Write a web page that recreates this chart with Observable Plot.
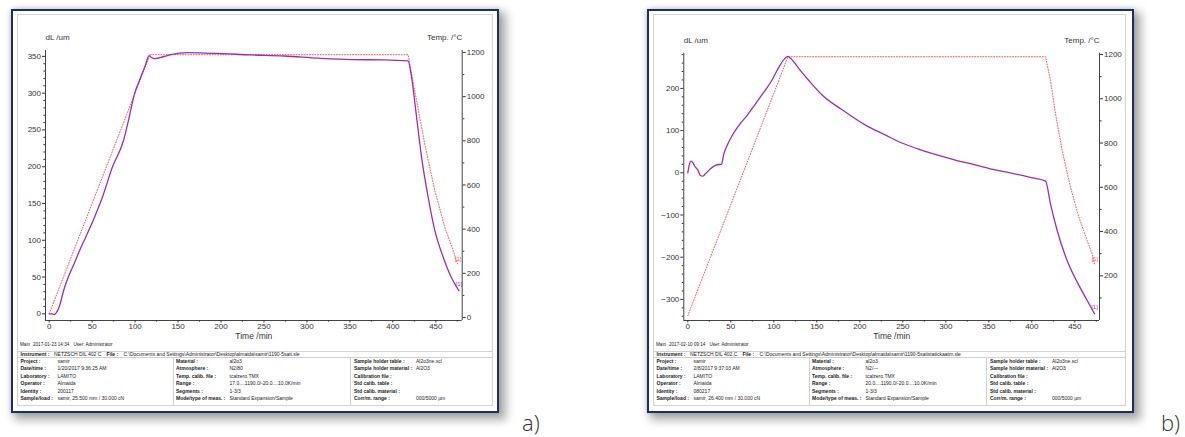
<!DOCTYPE html>
<html><head><meta charset="utf-8">
<script src="https://cdn.jsdelivr.net/npm/d3@7"></script>
<script src="https://cdn.jsdelivr.net/npm/@observablehq/plot@0.6"></script>
<style>
html,body{margin:0;padding:0;background:#fff;width:1185px;height:437px;overflow:hidden;}
body{position:relative;font-family:"Liberation Sans",Arial,sans-serif;}
.frame{position:absolute;border:2px solid #1e2d66;box-sizing:border-box;background:#fff;box-shadow:5px 5px 9px 2px rgba(0,0,0,0.33),0 0 5px rgba(0,0,0,0.18);}
.inner{position:absolute;border:1px solid #d4d4d4;box-sizing:border-box;}
.plotbox{position:absolute;}
.plotbox svg{overflow:visible;}
.t{position:absolute;white-space:nowrap;font-size:5px;line-height:6px;color:#222;}
.b{font-weight:bold;}
.line{position:absolute;background:#cfcfcf;}
.tag{position:absolute;font-family:"Open Sans","Noto Sans",sans-serif;font-weight:300;font-size:22px;line-height:22px;color:#333;}
</style></head>
<body>
<div class="frame" style="left:11px;top:9px;width:488px;height:404px"></div>
<div class="inner" style="left:17px;top:14px;width:476px;height:392px"></div>
<div class="frame" style="left:647px;top:9px;width:487px;height:404px"></div>
<div class="inner" style="left:653px;top:14px;width:473px;height:392px"></div>
<div id="pa" class="plotbox" style="left:17px;top:14px"></div>
<div id="pb" class="plotbox" style="left:654px;top:14px"></div>
<div class="tag" style="left:522px;top:411px">a)</div>
<div class="tag" style="left:1161px;top:411px">b)</div>
<script>
// ---------- Panel a data ----------
const timeA = [0, 3, 6, 8, 11.5, 17.4, 23, 29, 35, 40.7, 50.4, 62, 73.6, 86.5, 92.3, 98.8, 106.6, 112, 116.3, 119, 123.5, 132.7, 141.5, 161, 196, 235, 274, 313, 352, 390, 417.7, 421.6, 427.5, 433.3, 441, 448.8, 458.6, 468, 476.8];
const dLA   = [0, 0, -1, 1, 9, 34, 52, 68, 85, 99.7, 124.7, 158.7, 199.5, 235.7, 263, 297, 322, 338, 351, 348.5, 347, 349.5, 352.5, 355, 354, 352, 350.5, 347.5, 345.6, 345.3, 343.8, 323, 268.5, 213.8, 159, 113.5, 77, 49.7, 31.5];
const tempTimeA = [0, 117.3, 417.7, 425.4, 437.1, 448.8, 460.4, 470.2, 475.3];
const tempA     = [17, 1190, 1190, 1027, 786, 575, 409, 303, 243];
// ---------- Panel b data ----------
const timeB = [0, 1.5, 3.9, 6.2, 8.9, 11.6, 14.7, 17.4, 20.5, 26.4, 32.2, 36, 39, 41.9, 45.7, 51.6, 59.3, 69, 78.7, 88.4, 98, 105.8, 112.4, 116.3, 120, 131, 141, 157.1, 178.2, 186.6, 207.6, 228.7, 249.7, 270.8, 291.8, 312.9, 333.9, 355, 376, 397, 416, 421.7, 429.5, 441, 452.8, 464.4, 472.9];
const dLB   = [0, 17, 27.6, 23, 13.4, 7, -6.3, -8, -2.4, 9.5, 17.4, 19.7, 19.7, 45, 64.8, 88.5, 112, 136, 163.5, 191, 220, 250, 270, 275.7, 270, 242, 218, 182.7, 151, 139.4, 111.8, 90.6, 70, 54.3, 41, 29, 18.9, 7.9, -0.8, -10.2, -19.7, -73.5, -136.7, -207.8, -259, -302.6, -334];
const tempTimeB = [0, 116.5, 416, 421.7, 427.6, 435.3, 445, 454.7, 464.4, 470.2, 472.9];
const tempB     = [20, 1190, 1190, 1082, 931, 766, 600, 465, 359, 299, 254];
// ---------- Ticks ----------
const timeTicks = [0, 50, 100, 150, 200, 250, 300, 350, 400, 450];
const timeMinor = [25, 75, 125, 175, 225, 275, 325, 375, 425, 475];
const dLTicksA = [0, 50, 100, 150, 200, 250, 300, 350];
const dLTicksB = [-300, -200, -100, 0, 100, 200];
const tempTicksA = [0, 200, 400, 600, 800, 1000, 1200];
const tempTicksB = [200, 400, 600, 800, 1000, 1200];
const tempMinor = [100, 300, 500, 700, 900, 1100];
// ---------- Texts ----------
const xLabel = "Time /min", yLabel = "dL /um", y2Label = "Temp. /°C";
const col1Labels = ["Project :", "Date/time :", "Laboratory :", "Operator :", "Identity :", "Sample/load :"];
const col2Labels = ["Material :", "Atmosphere :", "Temp. calib. file :", "Range :", "Segments :", "Mode/type of meas. :"];
const col3Labels = ["Sample holder table :", "Sample holder material :", "Calibration file :", "Std calib. table :", "Std calib. material :", "Corr/m. range :"];
const col1A = ["samir", "1/20/2017 9:36:25 AM", "LAMITO", "Almaida", "200117", "samir, 25.500 mm / 30.000 cN"];
const col2A = ["al2o3", "N2/80", "tcalzero.TMX", "17.0....1190.0/-20.0....10.0K/min", "1-3/3", "Standard Expansion/Sample"];
const col3A = ["Al2o3ne.scl", "Al2O3", "", "", "", "000/5000 µm"];
const col1B = ["samir", "2/8/2017 9:37:03 AM", "LAMITO", "Almaida", "080217", "samir, 26.400 mm / 30.000 cN"];
const col2B = ["al2o3", "N2/---", "tcalzero.TMX", "20.0....1190.0/-20.0....10.0K/min", "1-3/3", "Standard Expansion/Sample"];
const col3B = ["Al2o3ne.scl", "Al2O3", "", "", "", "000/5000 µm"];
const mainA = ["Main", "2017-01-23 14:34", "User: Administrator"];
const mainB = ["Main", "2017-02-10 09:14", "User: Administrator"];
const instrument = "NETZSCH DIL 402 C";
const fileA = "C:\\Documents and Settings\\Administrator\\Desktop\\almaida\\samir\\1190-5sati.sle";
const fileB = "C:\\Documents and Settings\\Administrator\\Desktop\\almaida\\samir\\1190-5satistatickaatm.sle";

const PURPLE = "#9a2fae", RED = "#ff5555", AX = "#444";

function panel(cfg) {
  const [d0, d1] = cfg.dLDomain, [T0, T1] = cfg.tempDomain;
  const toY = T => d0 + (T - T0) * (d1 - d0) / (T1 - T0);
  const fromY = v => T0 + (v - d0) * (T1 - T0) / (d1 - d0);
  const dl = cfg.time.map((t, i) => ({t, v: cfg.dL[i]}));
  const tp = cfg.tempTime.map((t, i) => ({t, v: toY(cfg.temp[i])}));
  const dlEnd = dl[dl.length - 1], tpEnd = tp[tp.length - 1];
  return Plot.plot({
    width: cfg.width, height: 332,
    marginLeft: cfg.ml, marginRight: cfg.mr, marginTop: cfg.mt, marginBottom: 26,
    x: {domain: cfg.xDomain},
    y: {domain: cfg.dLDomain},
    style: {fontFamily: "'Liberation Sans', Arial, sans-serif", fontSize: "8px", color: "#333", background: "transparent", overflow: "visible"},
    marks: [
      Plot.ruleX([cfg.xDomain[0], cfg.xDomain[1]], {stroke: AX, strokeWidth: 1}),
      Plot.ruleY([cfg.dLDomain[0]], {stroke: AX, strokeWidth: 1}),
      Plot.axisY(cfg.dLTicks, {anchor: "left", tickSize: 3, tickPadding: 1.5, label: null, fontSize: 8}),
      Plot.axisY(cfg.dLMinor, {anchor: "left", tickSize: 1.6, tickFormat: () => "", label: null}),
      Plot.axisY(cfg.tempTicks.map(toY), {anchor: "right", tickSize: 3, tickPadding: 1.5, tickFormat: v => String(Math.round(fromY(v))), label: null, fontSize: 8}),
      Plot.axisY(tempMinor.map(toY), {anchor: "right", tickSize: 1.6, tickFormat: () => "", label: null}),
      Plot.axisX(timeTicks, {anchor: "bottom", tickSize: 2.5, tickPadding: 0.5, label: null, fontSize: 8}),
      Plot.axisX(timeMinor.filter(t => t < cfg.xDomain[1]), {anchor: "bottom", tickSize: 1.6, tickFormat: () => "", label: null}),
      Plot.line(tp, {x: "t", y: "v", stroke: RED, strokeWidth: 1, strokeDasharray: "1,1.7"}),
      Plot.line(dl, {x: "t", y: "v", stroke: PURPLE, strokeWidth: 1.3, curve: "monotone-x"}),
      Plot.text([tpEnd], {x: "t", y: "v", text: () => "[1]", fill: RED, fontSize: 6, dy: -4.5, dx: 0.5}),
      Plot.text([dlEnd], {x: "t", y: "v", text: () => "[1]", fill: PURPLE, fontSize: 6, dy: -6.5, dx: 0}),
      Plot.text([yLabel], {frameAnchor: "top-left", text: d => d, dy: -16, fontSize: 8}),
      Plot.text([y2Label], {frameAnchor: "top-right", text: d => d, dy: -16, fontSize: 8}),
      Plot.text([xLabel], {frameAnchor: "bottom", text: d => d, dy: 18, fontSize: 8.5})
    ]
  });
}

document.getElementById("pa").appendChild(panel({
  width: 476, ml: 28, mr: 31.3, mt: 36,
  xDomain: [-4.3, 480.7], dLDomain: [-9.1, 358], tempDomain: [-13.6, 1209],
  time: timeA, dL: dLA, tempTime: tempTimeA, temp: tempA,
  dLTicks: dLTicksA, dLMinor: d3.range(10, 351, 10).filter(v => v % 50 !== 0),
  tempTicks: tempTicksA
}));
document.getElementById("pb").appendChild(panel({
  width: 472, ml: 29.3, mr: 27, mt: 38.7,
  xDomain: [-4.65, 478.7], dLDomain: [-350, 283.4], tempDomain: [-1.8, 1205.9],
  time: timeB, dL: dLB, tempTime: tempTimeB, temp: tempB,
  dLTicks: dLTicksB, dLMinor: d3.range(-340, 281, 20).filter(v => v % 100 !== 0),
  tempTicks: tempTicksB
}));

function txt(x, yc, s, bold, size) {
  const d = document.createElement("div");
  d.className = "t" + (bold ? " b" : "");
  d.style.left = x + "px";
  d.style.top = (yc - 3) + "px";
  if (size) d.style.fontSize = size + "px";
  d.textContent = s;
  document.body.appendChild(d);
  return d;
}
function line(x, y, w, h) {
  const d = document.createElement("div");
  d.className = "line";
  Object.assign(d.style, {left: x + "px", top: y + "px", width: w + "px", height: h + "px"});
  document.body.appendChild(d);
}
function meta(fl, innerL, innerW, main, file, c1, c2, c3) {
  txt(fl + 9, 345, main[0], false, 4.6);
  txt(fl + 22, 345, main[1], false, 4.6);
  txt(fl + 62.5, 345, main[2], false, 4.6);
  line(innerL, 350.5, innerW, 0.8);
  line(innerL, 356.7, innerW, 0.8);
  line(fl + 161.5, 356.7, 0.8, 49.3);
  line(fl + 339, 356.7, 0.8, 49.3);
  txt(fl + 9.5, 353.6, "Instrument :", true);
  txt(fl + 43, 353.6, instrument, false);
  txt(fl + 95.5, 353.6, "File :", true);
  txt(fl + 112.5, 353.6, file, false);
  for (let i = 0; i < 6; i++) {
    const yc = 361 + i * 7.4;
    txt(fl + 9.5, yc, col1Labels[i], true);
    txt(fl + 46.5, yc, c1[i], false);
    txt(fl + 165, yc, col2Labels[i], true);
    txt(fl + 218.5, yc, c2[i], false);
    const l3 = txt(fl + 343, yc, col3Labels[i], true);
    const w = l3.getBoundingClientRect().width;
    txt(Math.max(fl + 405, fl + 343 + w + 3), yc, c3[i], false);
  }
}
meta(11, 17, 476, mainA, fileA, col1A, col2A, col3A);
meta(647, 653, 473, mainB, fileB, col1B, col2B, col3B);
</script>
</body></html>
